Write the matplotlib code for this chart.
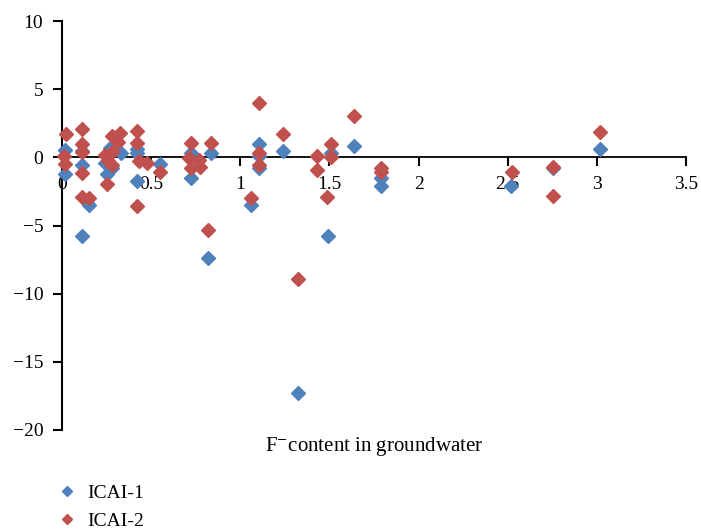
import matplotlib
matplotlib.use("Agg")
import matplotlib.pyplot as plt
from matplotlib.lines import Line2D

plt.rcParams['font.family'] = ['Liberation Serif', 'DejaVu Serif']
plt.rcParams['mathtext.fontset'] = 'stix'
plt.rcParams['axes.unicode_minus'] = True

# ICAI-1 (blue)
icai1_x = [0.015, 0.015, 0.11, 0.11, 0.11, 0.153, 0.27, 0.33, 0.24, 0.28, 0.25,
           0.42, 0.42, 0.42, 0.55, 0.725, 0.725, 0.835, 0.818, 1.06, 1.107, 1.107,
           1.107, 1.238, 1.325, 1.49, 1.507, 1.64, 1.79, 1.79, 2.52, 2.753, 3.015]
icai1_y = [0.55, -1.25, 0.45, -0.55, -5.8, -3.5, 0.7, 0.35, -0.45, -0.8, -1.25,
           0.6, 0.3, -1.75, -0.5, 0.3, -1.5, 0.3, -7.35, -3.5, 0.95, -0.8,
           0.1, 0.5, -17.3, -5.8, 0.3, 0.85, -1.55, -2.1, -2.1, -0.8, 0.6]

# ICAI-2 (red)
icai2_x = [0.02, 0.01, 0.015, 0.11, 0.11, 0.11, 0.11, 0.11, 0.153, 0.28, 0.323,
           0.314, 0.28, 0.243, 0.26, 0.28, 0.25, 0.42, 0.42, 0.43, 0.476, 0.42,
           0.55, 0.725, 0.71, 0.725, 0.77, 0.775, 0.836, 0.818, 1.06, 1.107,
           1.107, 1.107, 1.238, 1.325, 1.432, 1.432, 1.507, 1.507, 1.488, 1.64,
           1.79, 1.79, 2.524, 2.753, 2.753, 3.015]
icai2_y = [1.7, 0.1, -0.5, 2.1, 1.0, 0.4, -1.15, -2.9, -3.0, 1.55, 1.75,
           1.1, 0.4, 0.15, -0.3, -0.55, -1.95, 1.9, 1.05, -0.3, -0.4, -3.6,
           -1.05, 1.05, -0.05, -0.8, -0.2, -0.7, 1.05, -5.3, -2.95, 3.95,
           0.35, -0.55, 1.7, -8.9, 0.1, -0.9, 1.0, 0.05, -2.9, 3.05,
           -0.8, -1.1, -1.05, -0.7, -2.85, 1.85]

x_ticks = [0, 0.5, 1, 1.5, 2, 2.5, 3, 3.5]
x_ticklabels = ['0', '0.5', '1', '1.5', '2', '2.5', '3', '3.5']
y_ticks = [-20, -15, -10, -5, 0, 5, 10]
series_names = ['ICAI-1', 'ICAI-2']
colors = ['#4F81BD', '#C0504D']

W, H = 701, 529
fig = plt.figure(figsize=(W / 100, H / 100), dpi=100)
ax = fig.add_axes([62 / W, 1 - 430 / H, (686 - 62) / W, (430 - 21) / H])

ax.plot(icai1_x, icai1_y, linestyle='none', marker='D', markersize=7.0,
        color=colors[0], clip_on=False, zorder=3)
ax.plot(icai2_x, icai2_y, linestyle='none', marker='D', markersize=7.0,
        color=colors[1], clip_on=False, zorder=4)

ax.set_xlim(0, 3.5)
ax.set_ylim(-20, 10)
ax.spines['top'].set_visible(False)
ax.spines['right'].set_visible(False)
ax.spines['bottom'].set_position(('data', 0))
ax.spines['left'].set_linewidth(1.5)
ax.spines['bottom'].set_linewidth(1.3)

ax.set_xticks(x_ticks)
ax.set_xticklabels(x_ticklabels)
ax.set_yticks(y_ticks)
ax.tick_params(axis='x', direction='out', length=6.5, width=1.5, pad=7, labelsize=14)
ax.tick_params(axis='y', direction='out', length=6.5, width=1.5, pad=7, labelsize=14)

fig.text(374 / W, 1 - 447 / H, r'F$^{-}$content in groundwater',
         ha='center', va='center', fontsize=15)

handles = [Line2D([], [], linestyle='none', marker='D', markersize=5.5, color=c)
           for c in colors]
fig.legend(handles, series_names, loc='upper left',
           bbox_to_anchor=(59 / W, 1 - 484 / H), frameon=False, fontsize=14,
           handlelength=0.8, handletextpad=0.65, labelspacing=0.55,
           borderaxespad=0, borderpad=0)

fig.savefig('out.png', dpi=100)
